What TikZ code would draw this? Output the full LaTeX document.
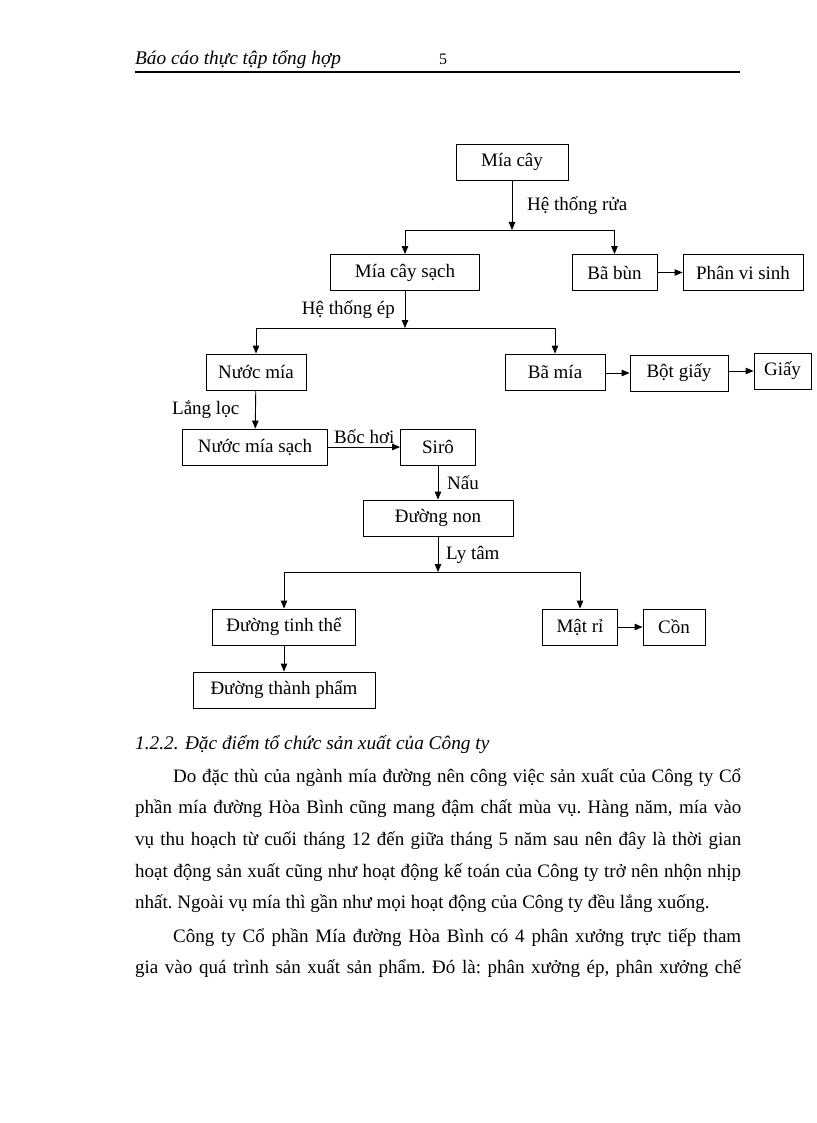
\documentclass[tikz,border=0pt]{standalone}
\usepackage{fontspec}
\setmainfont{Liberation Serif}
\usetikzlibrary{arrows.meta}
\newcommand\diagfont{\fontsize{19}{22}\selectfont}
\newcommand\bodyfont{\fontsize{19}{31.7}\selectfont}
\tikzstyle{proc}=[draw, line width=0.9pt, minimum height=36pt, inner sep=0pt, font=\diagfont]
\tikzstyle{tag}=[inner sep=0pt, font=\diagfont]
\tikzstyle{flow}=[line width=0.9pt, -{Triangle[length=8pt,width=6.5pt]}]

\begin{document}
\begin{tikzpicture}[x=1pt, y=-1pt]
\useasboundingbox (0,0) rectangle (816,1123);
% Header
    \node[anchor=base west, inner sep=0pt, font=\fontsize{19.3}{22}\selectfont\itshape] (head) at (135,65) {Báo cáo thực tập tổng hợp};
    \node[inner sep=0pt, font=\fontsize{16}{18}\selectfont] (page) at (443,59) {5};
    \draw[line width=2pt] (135,72) -- (740,72);

% Boxes
    \node[proc, minimum width=112pt] (mia) at (512,162) {Mía cây};
    \node[proc, minimum width=149pt] (miasach) at (405,272.5) {Mía cây sạch};
    \node[proc, minimum width=85pt] (babun) at (614.5,272.5) {Bã bùn};
    \node[proc, minimum width=120pt] (phanvs) at (743,272.5) {Phân vi sinh};
    \node[proc, minimum width=100pt] (nuocmia) at (256,372) {Nước mía};
    \node[proc, minimum width=100pt] (bamia) at (555,372) {Bã mía};
    \node[proc, minimum width=98pt] (botgiay) at (679,373) {Bột giấy};
    \node[proc, minimum width=57pt] (giay) at (782.5,371) {Giấy};
    \node[proc, minimum width=145pt] (nuocsach) at (255,447) {Nước mía sạch};
    \node[proc, minimum width=75pt] (siro) at (438,447) {Sirô};
    \node[proc, minimum width=150pt] (duongnon) at (438,518) {Đường non};
    \node[proc, minimum width=143pt] (tinhthe) at (284,627) {Đường tinh thể};
    \node[proc, minimum width=75pt] (matri) at (580,627) {Mật rỉ};
    \node[proc, minimum width=62pt] (con) at (674,627) {Cồn};
    \node[proc, minimum width=182pt] (thanhpham) at (284,690) {Đường thành phẩm};

% Junctions
    \coordinate (rua) at (512,230);
    \coordinate (ep) at (405,328);
    \coordinate (lytam) at (438,572);

% Arrows
    \draw[flow] (mia) -- (rua);
    \draw[flow] (rua) -| (miasach);
    \draw[flow] (rua) -| (babun);
    \draw[flow] (babun) -- (phanvs);
    \draw[flow] (miasach) -- (ep);
    \draw[flow] (ep) -| (nuocmia);
    \draw[flow] (ep) -| (bamia);
    \draw[flow] (bamia.east |- botgiay) -- (botgiay);
    \draw[flow] (botgiay.east |- giay) -- (giay);
    \draw[flow] (nuocmia) -- (nuocsach);
    \draw[flow] (nuocsach) -- (siro);
    \draw[flow] (siro) -- (duongnon);
    \draw[flow] (duongnon) -- (lytam);
    \draw[flow] (lytam) -| (tinhthe);
    \draw[flow] (lytam) -| (matri);
    \draw[flow] (matri) -- (con);
    \draw[flow] (tinhthe) -- (thanhpham);

% Labels
    \node[tag, anchor=west] (lrua) at (527,206) {Hệ thống rửa};
    \node[tag, anchor=east] (lep) at (395,310) {Hệ thống ép};
    \node[tag, anchor=west] (lloc) at (172,410) {Lắng lọc};
    \node[tag, anchor=west] (lhoi) at (334,437) {Bốc hơi};
    \node[tag, anchor=west] (lnau) at (447,483) {Nấu};
    \node[tag, anchor=west] (lly) at (446,555) {Ly tâm};

% Text
    \node[anchor=base west, inner sep=0pt, font=\fontsize{19.3}{22}\selectfont\itshape] (sec) at (135,749) {1.2.2. Đặc điểm tổ chức sản xuất của Công ty};
    \node[anchor=north west, inner sep=0pt, text width=606pt, align=justify, font=\bodyfont] (body) at (135,759.8) {%
      \frenchspacing\tolerance=10000\hyphenpenalty=10000
      \strut\hspace*{38pt}Do đặc thù của ngành mía đường nên công việc sản xuất của Công ty Cổ\linebreak
      phần mía đường Hòa Bình cũng mang đậm chất mùa vụ. Hàng năm, mía vào\linebreak
      vụ thu hoạch từ cuối tháng 12 đến giữa tháng 5 năm sau nên đây là thời gian\linebreak
      hoạt động sản xuất cũng như hoạt động kế toán của Công ty trở nên nhộn nhịp\linebreak
      nhất. Ngoài vụ mía thì gần như mọi hoạt động của Công ty đều lắng xuống.\par
      \vspace{1.5pt}
      {\parfillskip=0pt
      \hspace*{38pt}Công ty Cổ phần Mía đường Hòa Bình có 4 phân xưởng trực tiếp tham\linebreak
      gia vào quá trình sản xuất sản phẩm. Đó là: phân xưởng ép, phân xưởng chế\par}};

\end{tikzpicture}
\end{document}
